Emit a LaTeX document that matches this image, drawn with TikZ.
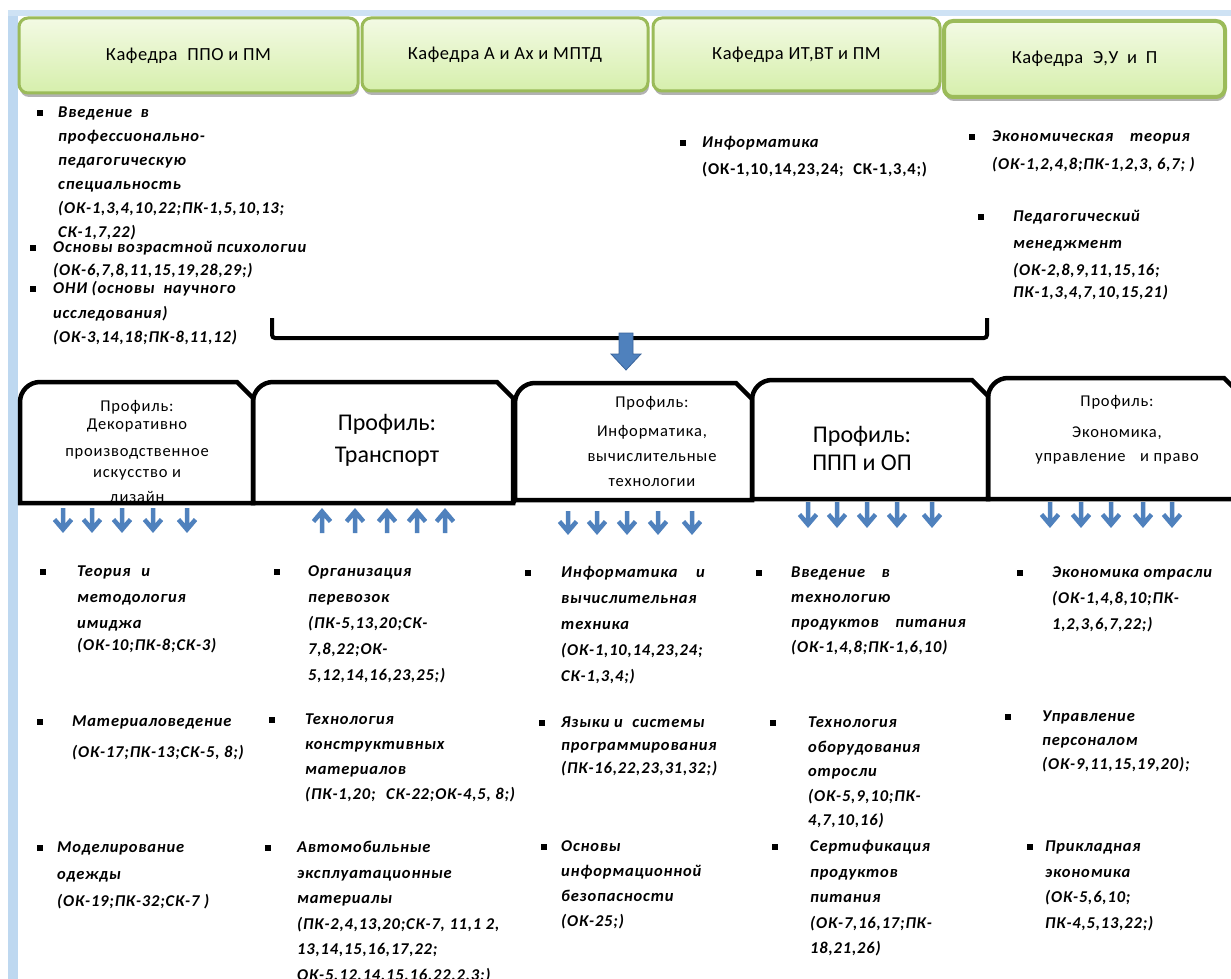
\documentclass[tikz,border=0pt]{standalone}
\usepackage{fontspec}
\setmainfont{Carlito}
\newfontfamily\lsf[LetterSpace=5]{Carlito}
\newfontfamily\lsh[LetterSpace=3]{Carlito}
\usetikzlibrary{shadows}
\definecolor{olv}{RGB}{155,187,89}
\definecolor{gtop}{RGB}{243,250,228}
\definecolor{gbot}{RGB}{214,239,172}
\definecolor{frm}{RGB}{190,216,240}
\definecolor{abl}{RGB}{79,129,189}
\definecolor{abd}{RGB}{58,100,155}
\newcommand\bl[2]{\fill (#1-2.8,#2-2.8) rectangle (#1+2.8,#2+2.8);}
\newcommand\prof[4]{\draw[pline] (#1,#4) -- (#1,#3+20) .. controls (#1,#3+9) and (#1+9,#3) .. (#1+20,#3) -- (#2-16,#3) -- (#2,#3+16) -- (#2,#4) -- cycle;}
\tikzset{
  hdr/.style={draw=olv, line width=3pt, rounded corners=9pt, top color=gtop, bottom color=gbot,
    drop shadow={shadow xshift=1pt, shadow yshift=-4pt, opacity=0.3, fill=black},
    inner sep=0pt, font=\lsh\fontsize{18.5}{20}\selectfont},
  lst/.style={anchor=north west, inner sep=0pt, align=left, font=\lsf\fontsize{16.5}{#1}\selectfont\bfseries\itshape},
  ptx/.style={anchor=north, inner sep=0pt, align=center, font=\lsf\fontsize{16.5}{#1}\selectfont},
  pbig/.style={anchor=north, inner sep=0pt, align=center, font=\rmfamily\fontsize{24}{#1}\selectfont},
  pline/.style={line width=4.5pt, line join=miter, draw=black},
  sarr/.style={draw=abl, line width=4.5pt, line join=miter, line cap=butt},
  brk/.style={line width=4pt, rounded corners=3pt}
}
\begin{document}
\begin{tikzpicture}[x=1pt,y=-1pt]
\useasboundingbox (0,0) rectangle (1231,979);
\fill[white] (0,0) rectangle (1231,979);
% frame
\fill[frm] (8,10) rectangle (18,979);
\fill[frm!75] (8,10) rectangle (1231,16);
% header boxes
\node[hdr, minimum width=339pt, minimum height=75pt] (k1) at (188.5,55.5) {Кафедра\hspace{5pt} ППО и ПМ};
\node[hdr, minimum width=286pt, minimum height=73pt] (k2) at (505,54.5) {Кафедра А и Ах и МПТД};
\node[hdr, minimum width=287pt, minimum height=73pt] (k3) at (796.5,54.5) {Кафедра ИТ,ВТ и ПМ};
\node[hdr, line width=4pt, minimum width=281pt, minimum height=76pt] (k4) at (1084.5,59) {Кафедра\hspace{5pt} Э,У\hspace{4pt} и\hspace{4pt} П};
% top lists
\bl{40}{113}
\node[lst=24] (a1) at (58,{113+4.5-0.7*24}) {\strut Введение\hspace{4pt} в\\профессионально-\\педагогическую\\специальность\\(ОК-1,3,4,10,22;ПК-1,5,10,13;\\СК-1,7,22)};
\bl{33}{248}
\node[lst=23] (a2) at (53,{248+4.5-0.7*23}) {\strut Основы возрастной психологии\\(ОК-6,7,8,11,15,19,28,29;)};
\bl{33}{289}
\node[lst=24.5] (a3) at (53,{289+4.5-0.7*24.5}) {\strut ОНИ (основы\hspace{4pt} научного\\исследования)\\(ОК-3,14,18;ПК-8,11,12)};
\bl{683}{143}
\node[lst=27] (b1) at (702,{143+4.5-0.7*27}) {\strut Информатика\\{\upshape (ОК-1,10,14,23,24;\hspace{5pt} СК-1,3,4;)}};
\bl{972}{137}
\node[lst=28] (c1) at (992,{137+4.5-0.7*28}) {\strut Экономическая\hspace{12pt} теория\\(ОК-1,2,4,8;ПК-1,2,3, 6,7; )};
\bl{981}{217}
\node[lst=27] (c2) at (1013,{217+4.5-0.7*27}) {\strut Педагогический\\менеджмент\\(ОК-2,8,9,11,15,16;\\[-5pt]ПК-1,3,4,7,10,15,21)};
% bracket and block arrow
\coordinate (bl) at (272,318);
\coordinate (br) at (987,318);
\draw[brk] (bl) -- ++(0,20) -| (br);
\fill[abl, draw=abd, line width=0.8pt] (619,333) -- (633,333) -- (633,354) -- (641,354) -- (626,370) -- (611,354) -- (619,354) -- cycle;
% profile texts
\node[ptx=22] (p1) at (137,{407+4.5-0.7*22}) {\strut Профиль:\\[-4pt]Декоративно\\[5pt]производственное\\[-1pt]искусство и\\[3pt]дизайн};
\node[pbig=32] (p2) at (387,{423+7-0.7*32}) {\strut Профиль:\\Транспорт};
\node[ptx=25] (p3) at (652,{403+4.5-0.7*25}) {\strut Профиль:\\[4pt]Информатика,\\вычислительные\\технологии};
\node[pbig=28] (p4) at (862,{435+7-0.7*28}) {\strut Профиль:\\ППП и ОП};
\node[ptx=24] (p5) at (1117,{402+4.5-0.7*24}) {\strut Профиль:\\[7pt]Экономика,\\управление\hspace{10pt} и право};
% profile outlines
\prof{20}{253}{382}{503}
\prof{253}{513}{382}{503}
\prof{515}{752}{383}{500}
\prof{752}{988}{380}{499}
\prof{988}{1240}{378}{499}
\draw[pline] (513,503) -- (515,500);
% small arrows
\foreach \x in {63,92,122,153,187}
  \draw[sarr] (\x,508) -- (\x,529) (\x-8.5,519.5) -- (\x,529.5) -- (\x+8.5,519.5);
\foreach \x in {322,355,387,417,445}
  \draw[sarr] (\x,533) -- (\x,512) (\x-8.5,521.5) -- (\x,511.5) -- (\x+8.5,521.5);
\foreach \x in {568,597,627,658,692}
  \draw[sarr] (\x,511) -- (\x,531) (\x-8.5,521.5) -- (\x,531.5) -- (\x+8.5,521.5);
\foreach \x in {808,837,867,897,932}
  \draw[sarr] (\x,502) -- (\x,524) (\x-8.5,514.5) -- (\x,524.5) -- (\x+8.5,514.5);
\foreach \x in {1050,1081,1111,1143,1172}
  \draw[sarr] (\x,502) -- (\x,524) (\x-8.5,514.5) -- (\x,524.5) -- (\x+8.5,514.5);
% bottom lists
\bl{43}{572}
\node[lst=26] (d1) at (77,{572+4.5-0.7*26}) {\strut Теория\hspace{6pt} и\\методология\\имиджа\\[-4pt](ОК-10;ПК-8;СК-3)};
\bl{40}{722}
\node[lst=31] (d2) at (72,{722+4.5-0.7*31}) {\strut Материаловедение\\(ОК-17;ПК-13;СК-5, 8;)};
\bl{40}{848}
\node[lst=27] (d3) at (57,{848+4.5-0.7*27}) {\strut Моделирование\\одежды\\(ОК-19;ПК-32;СК-7 )};
\bl{277}{572}
\node[lst=26] (e1) at (308,{572+4.5-0.7*26}) {\strut Организация\\перевозок\\(ПК-5,13,20;СК-\\7,8,22;ОК-\\5,12,14,16,23,25;)};
\bl{272}{720}
\node[lst=25] (e2) at (305,{720+4.5-0.7*25}) {\strut Технология\\конструктивных\\материалов\\(ПК-1,20;\hspace{6pt} СК-22;ОК-4,5, 8;)};
\bl{268}{848}
\node[lst=25.5] (e3) at (297,{848+4.5-0.7*25.5}) {\strut Автомобильные\\эксплуатационные\\материалы\\(ПК-2,4,13,20;СК-7, 11,1 2,\\13,14,15,16,17,22;\\ОК-5,12,14,15,16,22,2,3;)};
\bl{528}{573}
\node[lst=26] (f1) at (561,{573+4.5-0.7*26}) {\strut Информатика\hspace{14pt} и\\вычислительная\\техника\\(ОК-1,10,14,23,24;\\СК-1,3,4;)};
\bl{542}{723}
\node[lst=23] (f2) at (561,{723+4.5-0.7*23}) {\strut Языки и\hspace{5pt} системы\\программирования\\(ПК-16,22,23,31,32;)};
\bl{544}{847}
\node[lst=25] (f3) at (561,{847+4.5-0.7*25}) {\strut Основы\\информационной\\безопасности\\(ОК-25;)};
\bl{759}{573}
\node[lst=25] (g1) at (791,{573+4.5-0.7*25}) {\strut Введение\hspace{12pt} в\\технологию\\продуктов\hspace{12pt} питания\\(ОК-1,4,8;ПК-1,6,10)};
\bl{773}{723}
\node[lst=24.5] (g2) at (808,{723+4.5-0.7*24.5}) {\strut Технология\\оборудования\\отросли\\(ОК-5,9,10;ПК-\\4,7,10,16)};
\bl{775}{847}
\node[lst=25.5] (g3) at (810,{847+4.5-0.7*25.5}) {\strut Сертификация\\продуктов\\питания\\(ОК-7,16,17;ПК-\\18,21,26)};
\bl{1020}{573}
\node[lst=26] (h1) at (1052,{573+4.5-0.7*26}) {\strut Экономика отрасли\\(ОК-1,4,8,10;ПК-\\1,2,3,6,7,22;)};
\bl{1008}{717}
\node[lst=24] (h2) at (1042,{717+4.5-0.7*24}) {\strut Управление\\персоналом\\(ОК-9,11,15,19,20);};
\bl{1030}{847}
\node[lst=25.5] (h3) at (1045,{847+4.5-0.7*25.5}) {\strut Прикладная\\экономика\\(ОК-5,6,10;\\ПК-4,5,13,22;)};
\end{tikzpicture}
\end{document}
